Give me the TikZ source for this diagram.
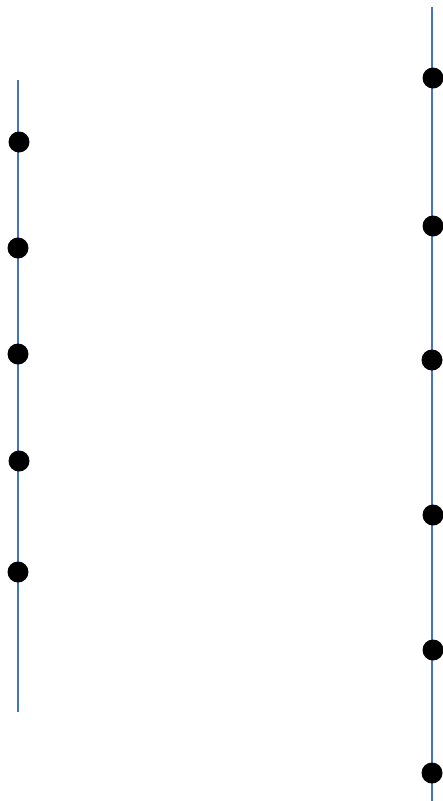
\documentclass[tikz,border=0pt]{standalone}
\definecolor{lineblue}{RGB}{68,114,196}
\tikzset{
  rail/.style={draw=lineblue, line width=1.6pt},
  dot/.style={circle, fill=black, inner sep=0pt, minimum size=21pt}
}
\begin{document}
\begin{tikzpicture}[x=1pt,y=-1pt]
\useasboundingbox[fill=white] (0,0) rectangle (443,801);
% left rail
\coordinate (lt) at (17.8,80);
\coordinate (lb) at (17.8,712);
\draw[rail] (lt) -- (lb);
\node[dot] (l1) at (19,142) {};
\node[dot] (l2) at (18,248) {};
\node[dot] (l3) at (18,354) {};
\node[dot] (l4) at (19,461) {};
\node[dot] (l5) at (18,572) {};
% right rail
\coordinate (rt) at (432,7);
\coordinate (rb) at (432,801);
\draw[rail] (rt) -- (rb);
\node[dot] (r1) at (433,78) {};
\node[dot] (r2) at (433,226) {};
\node[dot] (r3) at (432,360) {};
\node[dot] (r4) at (433,515) {};
\node[dot] (r5) at (433,650) {};
\node[dot] (r6) at (432,773) {};
\end{tikzpicture}
\end{document}
